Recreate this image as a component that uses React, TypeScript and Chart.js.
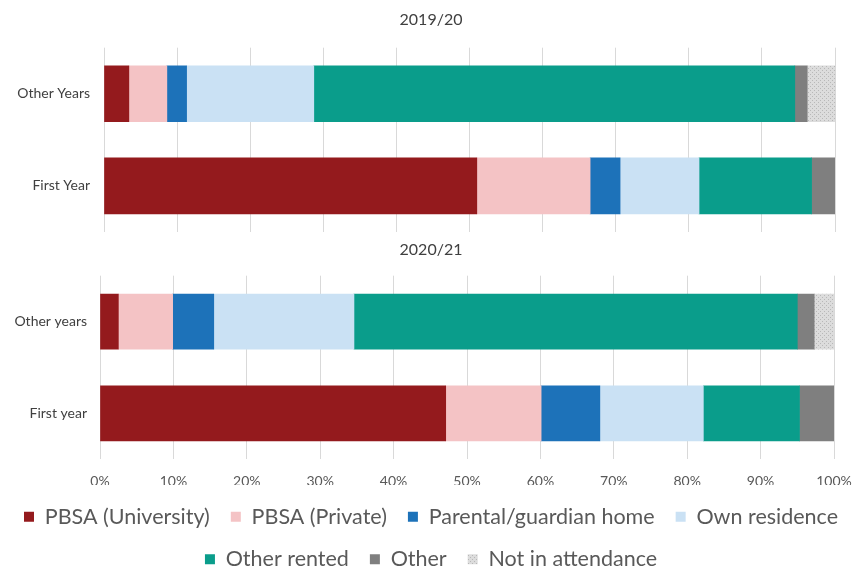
import React, { useEffect, useRef } from "react";
import { Chart, registerables } from "chart.js";

Chart.register(...registerables);

const seriesNames = [
  "PBSA (University)",
  "PBSA (Private)",
  "Parental/guardian home",
  "Own residence",
  "Other rented",
  "Other",
  "Not in attendance",
];
const seriesColors = ["#941A1D", "#F4C3C5", "#1D72B9", "#CAE1F4", "#0A9D8B", "#7F7F7F", "pattern"];

const title1920 = "2019/20";
const title2021 = "2020/21";
const categories1920 = ["Other Years", "First Year"];
const categories2021 = ["Other years", "First year"];

// values per row, in series order (percent)
const otherYears1920 = [3.4, 5.2, 2.7, 17.4, 65.8, 1.7, 3.8];
const firstYear1920 = [51.0, 15.5, 4.1, 10.8, 15.4, 3.2, 0];
const otherYears2021 = [2.5, 7.4, 5.6, 19.1, 60.4, 2.3, 2.7];
const firstYear2021 = [47.1, 13.0, 8.0, 14.1, 13.1, 4.7, 0];

const xMin = 0;
const xMax = 100;
const xStep = 10;

const FONT = "Lato, 'Open Sans', sans-serif";

function makePattern(): CanvasPattern | string {
  const c = document.createElement("canvas");
  c.width = 4;
  c.height = 4;
  const g = c.getContext("2d");
  if (!g) return "#D9D9D9";
  g.fillStyle = "#DCDCDC";
  g.fillRect(0, 0, 4, 4);
  g.fillStyle = "#B8B8B8";
  g.fillRect(0, 0, 1, 1);
  g.fillRect(2, 2, 1, 1);
  return g.createPattern(c, "repeat") || "#D9D9D9";
}

function buildDatasets(rowA: number[], rowB: number[], pattern: any, thickness: number) {
  return seriesNames.map((name, i) => ({
    label: name,
    data: [rowA[i], rowB[i]],
    backgroundColor: seriesColors[i] === "pattern" ? pattern : seriesColors[i],
    borderWidth: 0,
    barThickness: thickness,
  }));
}

function makeOptions(opts: {
  title: string;
  titlePad: { top: number; bottom: number };
  showTicks: boolean;
  showLegend: boolean;
  xHeight: number;
  yWidth: number;
  rightWidth: number;
  yPad: number;
  bottomPad: number;
}): any {
  return {
    indexAxis: "y",
    animation: false,
    responsive: false,
    events: [],
    layout: { padding: { left: 0, right: 0, top: 0, bottom: opts.bottomPad } },
    plugins: {
      tooltip: { enabled: false },
      title: {
        display: true,
        text: opts.title,
        color: "#404040",
        font: { family: FONT, size: 16, weight: "normal" },
        padding: opts.titlePad,
      },
      legend: {
        display: opts.showLegend,
        position: "bottom",
        labels: {
          boxWidth: 10,
          boxHeight: 10,
          padding: 21,
          color: "#595959",
          font: { family: FONT, size: 21.5 },
        },
      },
    },
    scales: {
      x: {
        stacked: true,
        min: xMin,
        max: xMax,
        ticks: {
          display: opts.showTicks,
          stepSize: xStep,
          padding: 13.5,
          color: "#595959",
          font: { family: FONT, size: 14 },
          callback: (v: number) => v + "%",
        },
        grid: { color: "#D9D9D9", drawTicks: false, lineWidth: 1 },
        border: { display: false },
        afterFit: (s: any) => {
          s.height = opts.xHeight;
          s.paddingLeft = 0;
          s.paddingRight = 0;
        },
      },
      y: {
        stacked: true,
        grid: { display: false, drawTicks: false },
        border: { display: false },
        ticks: {
          padding: opts.yPad,
          color: "#404040",
          font: { family: FONT, size: 14 },
        },
        afterFit: (s: any) => {
          s.width = opts.yWidth;
          s.paddingTop = 0;
          s.paddingBottom = 0;
        },
      },
      rightPad: {
        type: "linear",
        axis: "y",
        position: "right",
        display: true,
        grid: { display: false, drawTicks: false },
        border: { display: false },
        ticks: { display: false },
        afterFit: (s: any) => {
          s.width = opts.rightWidth;
          s.paddingTop = 0;
          s.paddingBottom = 0;
        },
      },
    },
  };
}

export default function App() {
  const topRef = useRef<HTMLCanvasElement>(null);
  const bottomRef = useRef<HTMLCanvasElement>(null);

  useEffect(() => {
    if (!topRef.current || !bottomRef.current) return;
    const pattern = makePattern();

    const top = new Chart(topRef.current, {
      type: "bar",
      data: {
        labels: categories1920,
        datasets: buildDatasets(otherYears1920, firstYear1920, pattern, 56) as any,
      },
      options: makeOptions({
        title: title1920,
        titlePad: { top: 10.4, bottom: 18.1 },
        showTicks: false,
        showLegend: false,
        xHeight: 0,
        yWidth: 104,
        rightWidth: 27,
        yPad: 14,
        bottomPad: 3,
      }),
    });

    const bottom = new Chart(bottomRef.current, {
      type: "bar",
      data: {
        labels: categories2021,
        datasets: buildDatasets(otherYears2021, firstYear2021, pattern, 55) as any,
      },
      options: makeOptions({
        title: title2021,
        titlePad: { top: 5.4, bottom: 16.1 },
        showTicks: true,
        showLegend: true,
        xHeight: 25.8,
        yWidth: 100,
        rightWidth: 28,
        yPad: 13,
        bottomPad: 0,
      }),
    });

    return () => {
      top.destroy();
      bottom.destroy();
    };
  }, []);

  return (
    <div
      style={{
        position: "fixed",
        left: 0,
        top: 0,
        width: 862,
        height: 569,
        overflow: "hidden",
        background: "#ffffff",
      }}
    >
      <canvas ref={topRef} width={862} height={235} style={{ position: "absolute", left: 0, top: 0 }} />
      <canvas ref={bottomRef} width={862} height={345} style={{ position: "absolute", left: 0, top: 235 }} />
    </div>
  );
}
